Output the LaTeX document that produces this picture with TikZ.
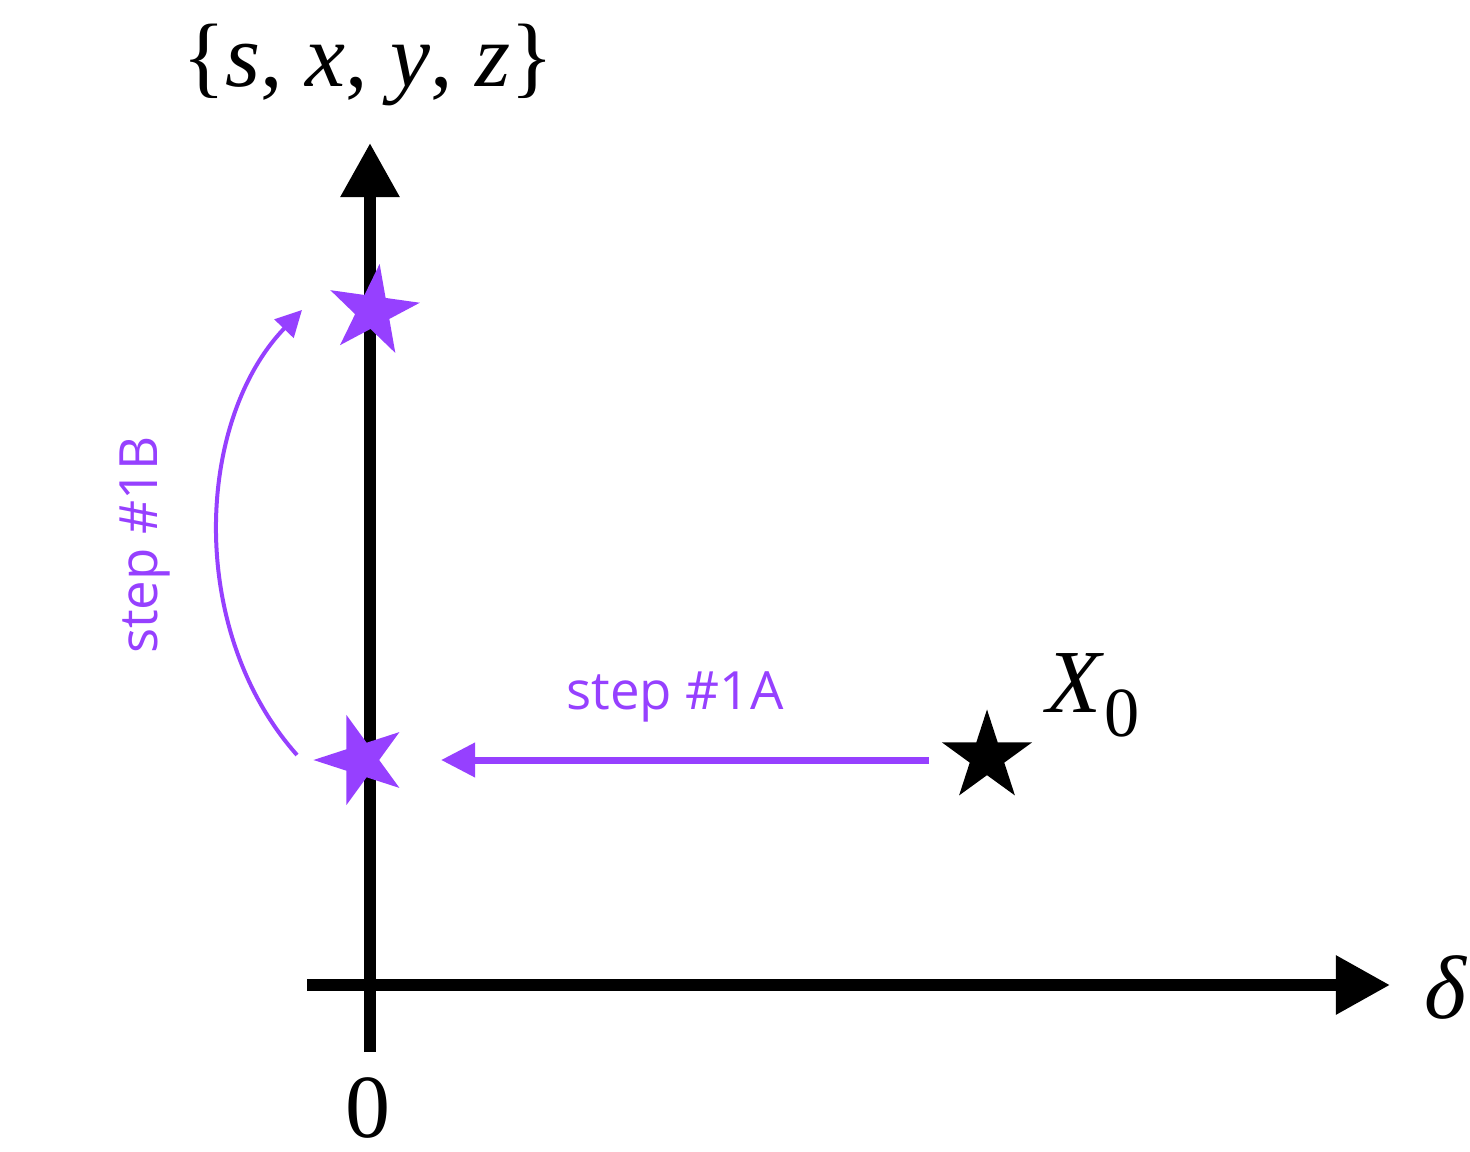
\documentclass[tikz,border=0pt]{standalone}
\usepackage{fontspec}
\setmainfont{Liberation Serif}
\newfontfamily\labelfont{Open Sans}
\usetikzlibrary{arrows.meta,shapes.geometric}
\definecolor{stepviolet}{HTML}{9640FF}
\tikzset{
  axisline/.style={line width=0.12cm, -{Triangle[length=0.54cm,width=0.56cm]}},
  starmark/.style={star, star points=5, star point ratio=2.618, minimum size=0.95cm, inner sep=0pt, draw=none},
  bigtext/.style={font=\fontsize{25.6}{30}\selectfont, inner sep=0pt},
  steplabel/.style={font=\labelfont\fontsize{15}{18}\selectfont, text=stepviolet, inner sep=0pt},
  steparrowA/.style={stepviolet, line width=0.07cm, -{Triangle[length=0.34cm,width=0.33cm]}},
  steparrowB/.style={stepviolet, line width=0.04cm, -{Triangle[length=0.26cm,width=0.26cm]}},
}
\begin{document}
\begin{tikzpicture}[x=0.01cm,y=-0.01cm]
\useasboundingbox (0,0) rectangle (1470,1152);
% axes
\coordinate (vbot) at (370,1052);
\coordinate (vtop) at (370,143);
\coordinate (hleft) at (307,985);
\coordinate (hright) at (1390,985);
\draw[axisline] (vbot) -- (vtop);
\draw[axisline] (hleft) -- (hright);
% axis labels
\node[bigtext] (ylab) at (368,65) {\{\textit{s}, \textit{x}, \textit{y}, \textit{z}\}};
\node[bigtext] (zero) at (368,1108) {0};
\node[bigtext] (dlab) at (1446,987) {\textit{δ}};
\node[bigtext, anchor=base west] (xlab) at (1046,712) {\textit{X}\raisebox{-0.27em}{\fontsize{20}{22}\selectfont 0}};
% stars
\node[starmark, fill=black] (x0) at (987,757) {};
\node[starmark, fill=stepviolet, rotate=-8] (s1) at (373,311) {};
\node[starmark, fill=stepviolet, rotate=18] (s0) at (361,760) {};
% step 1A
\coordinate (aStart) at (929,760);
\coordinate (aEnd) at (441,760);
\draw[steparrowA] (aStart) -- (aEnd);
\node[steplabel] (labA) at (675,697) {step \#1A};
% step 1B
\coordinate (bStart) at (297,755);
\coordinate (bEnd) at (302,310);
\draw[steparrowB] (bStart) .. controls (186,630) and (196,420) .. (bEnd);
\node[steplabel, rotate=90] (labB) at (145,545) {step \#1B};
\end{tikzpicture}
\end{document}
